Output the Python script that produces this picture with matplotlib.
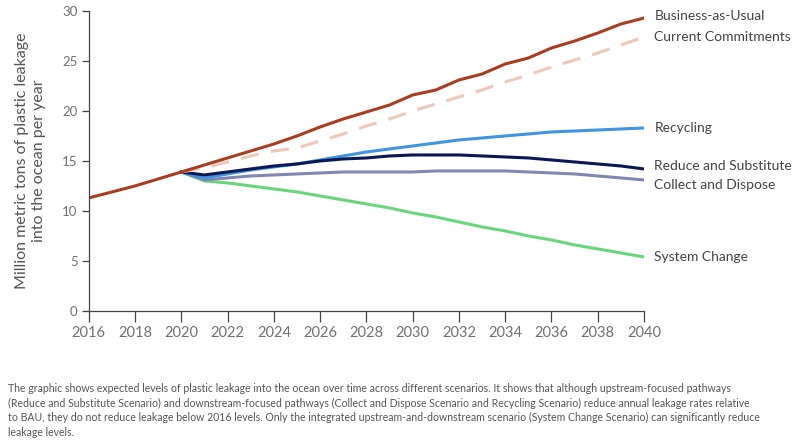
import numpy as np
import matplotlib
matplotlib.use("Agg")
import matplotlib.pyplot as plt

# ── data ──
years = list(range(2016, 2041))
alt_years = list(range(2020, 2041))

bau = [11.3, 11.9, 12.5, 13.2, 13.9, 14.6, 15.3, 16.0, 16.7, 17.5, 18.4,
       19.2, 19.9, 20.6, 21.6, 22.1, 23.1, 23.7, 24.7, 25.3, 26.3, 27.0,
       27.8, 28.7, 29.3]
current = [13.9, 14.3, 14.9, 15.5, 16.0, 16.3, 17.0, 17.7, 18.5, 19.2, 20.0,
           20.7, 21.4, 22.1, 22.9, 23.6, 24.4, 25.1, 25.8, 26.6, 27.4]
recycling = [13.9, 13.3, 13.7, 14.1, 14.4, 14.7, 15.1, 15.5, 15.9, 16.2, 16.5,
             16.8, 17.1, 17.3, 17.5, 17.7, 17.9, 18.0, 18.1, 18.2, 18.3]
reduce_sub = [13.9, 13.6, 13.9, 14.2, 14.5, 14.7, 15.0, 15.2, 15.3, 15.5, 15.6,
              15.6, 15.6, 15.5, 15.4, 15.3, 15.1, 14.9, 14.7, 14.5, 14.2]
collect = [13.9, 13.1, 13.3, 13.5, 13.6, 13.7, 13.8, 13.9, 13.9, 13.9, 13.9,
           14.0, 14.0, 14.0, 14.0, 13.9, 13.8, 13.7, 13.5, 13.3, 13.1]
system = [13.9, 13.0, 12.8, 12.5, 12.2, 11.9, 11.5, 11.1, 10.7, 10.3, 9.8,
          9.4, 8.9, 8.4, 8.0, 7.5, 7.1, 6.6, 6.2, 5.8, 5.4]

label_names = ["Business-as-Usual", "Current Commitments", "Recycling",
               "Reduce and Substitute", "Collect and Dispose", "System Change"]
label_y = [29.5, 27.4, 18.3, 14.5, 12.6, 5.4]

caption = ("The graphic shows expected levels of plastic leakage into the ocean over time across different scenarios. "
           "It shows that although upstream-focused pathways\n"
           "(Reduce and Substitute Scenario) and downstream-focused pathways (Collect and Dispose Scenario and "
           "Recycling Scenario) reduce annual leakage rates relative\n"
           "to BAU, they do not reduce leakage below 2016 levels. Only the integrated upstream-and-downstream "
           "scenario (System Change Scenario) can significantly reduce\n"
           "leakage levels.")

plt.rcParams["font.family"] = ["Lato", "DejaVu Sans"]

fig = plt.figure(figsize=(8, 4.41), dpi=100)
ax = fig.add_axes([0.111, 0.295, 0.694, 0.68])

ax.plot(alt_years, system, color="#6ad67c", lw=2.2)
ax.plot(alt_years, collect, color="#8087b2", lw=2.2)
ax.plot(alt_years, recycling, color="#3f95e2", lw=2.2)
ax.plot(alt_years, reduce_sub, color="#0b1856", lw=2.2)
ax.plot(alt_years, current, color="#edc9b9", lw=2.2, dashes=(6, 4))
ax.plot(years, bau, color="#a83d1f", lw=2.2)

ax.set_xlim(2016, 2040)
ax.set_ylim(0, 30)
ax.set_xticks(range(2016, 2041, 2))
ax.set_yticks(range(0, 31, 5))
for s in ["top", "right"]:
    ax.spines[s].set_visible(False)
for s in ["left", "bottom"]:
    ax.spines[s].set_color("#444444")
    ax.spines[s].set_linewidth(0.9)
ax.tick_params(axis="x", direction="out", length=8, width=0.9, color="#444444",
               labelcolor="#707070", labelsize=10.5, pad=3)
ax.tick_params(axis="y", direction="out", length=5, width=0.9, color="#444444",
               labelcolor="#707070", labelsize=9.5, pad=3)

ax.set_ylabel("Million metric tons of plastic leakage\ninto the ocean per year",
              fontsize=11.5, color="#555555", labelpad=12, linespacing=1.25)

for name, y in zip(label_names, label_y):
    ax.text(2040.45, y, name, fontsize=10, color="#444444", va="center",
            ha="left", clip_on=False)

fig.text(0.01, 1 - 383 / 441, caption, fontsize=7.6, color="#555555",
         va="top", ha="left", linespacing=1.4)

fig.savefig("out.png", dpi=100)
